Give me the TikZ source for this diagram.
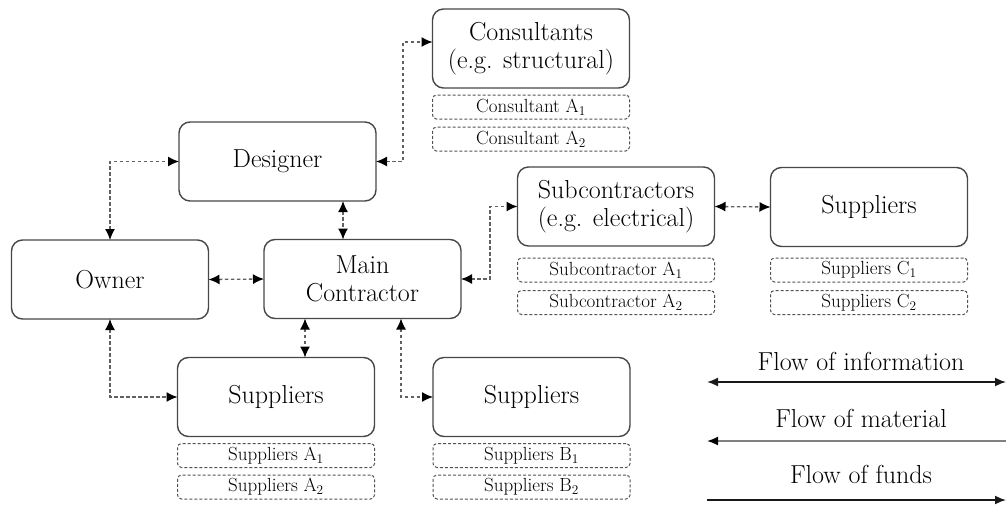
\documentclass[tikz,border=0pt]{standalone}
\usetikzlibrary{arrows.meta}
\begin{document}
\begin{tikzpicture}[x=1pt,y=-1pt,
  bigbox/.style={draw=black!72, line width=1.4pt, rounded corners=11pt,
    minimum width=197pt, minimum height=79pt, inner sep=0pt, outer sep=0pt,
    align=center, text=black, font=\fontsize{26}{28}\selectfont},
  smallbox/.style={draw=black!68, line width=1pt, dash pattern=on 3pt off 2pt,
    rounded corners=4pt, minimum width=197pt, minimum height=24pt,
    inner sep=0pt, outer sep=0pt, text=black, font=\fontsize{19}{20}\selectfont},
  conn/.style={draw=black!62, line width=1.3pt, dash pattern=on 3.5pt off 2.5pt,
    {Latex[length=11pt,width=10pt,black]}-{Latex[length=11pt,width=10pt,black]}},
  legtext/.style={anchor=base, text=black, font=\fontsize{26}{28}\selectfont},
  legline/.style={line width=1.7pt}
]
\useasboundingbox (0,0) rectangle (1008,506);

% main boxes
\node[bigbox] (consult)  at (531,48.5)  {Consultants\\(e.g. structural)};
\node[bigbox] (designer) at (277.5,161.5) {Designer};
\node[bigbox] (owner)    at (110,279.5) {Owner};
\node[bigbox] (main)     at (362.5,279) {Main\\Contractor};
\node[bigbox] (sub)      at (616,206.5) {Subcontractors\\(e.g. electrical)};
\node[bigbox] (supC)     at (869,207)   {Suppliers};
\node[bigbox] (supA)     at (276,397)   {Suppliers};
\node[bigbox] (supB)     at (531.5,397) {Suppliers};

% small dashed boxes
\node[smallbox] (cA1)   at (531,107)   {Consultant A\textsubscript{1}};
\node[smallbox] (cA2)   at (531,139)   {Consultant A\textsubscript{2}};
\node[smallbox] (subA1) at (616,270)   {Subcontractor A\textsubscript{1}};
\node[smallbox] (subA2) at (616,302.5) {Subcontractor A\textsubscript{2}};
\node[smallbox] (supC1) at (869,270)   {Suppliers C\textsubscript{1}};
\node[smallbox] (supC2) at (869,302.5) {Suppliers C\textsubscript{2}};
\node[smallbox] (supA1) at (276,455.5) {Suppliers A\textsubscript{1}};
\node[smallbox] (supA2) at (276,487)   {Suppliers A\textsubscript{2}};
\node[smallbox] (supB1) at (531.5,455.5) {Suppliers B\textsubscript{1}};
\node[smallbox] (supB2) at (531.5,487)   {Suppliers B\textsubscript{2}};

% helper coordinates
\coordinate (cj) at (403,42);
\coordinate (dm) at (343,0);
\coordinate (sj) at (490,0);
\coordinate (ma) at (305,0);
\coordinate (mb) at (401,0);

% connectors
\draw[conn] (owner.north) |- (designer.west);
\draw[conn] (owner.east) -- (main.west);
\draw[conn] (designer.south -| dm) -- (main.north -| dm);
\draw[conn] (designer.east) -| (cj) -- (consult.west |- cj);
\draw[conn] (main.east) -| (sj |- sub.west) -- (sub.west);
\draw[conn] (sub.east) -- (supC.west);
\draw[conn] (main.south -| ma) -- (supA.north -| ma);
\draw[conn] (main.south -| mb) |- (supB.west);
\draw[conn] (owner.south) |- (supA.west);

% legend
\node[legtext] (linfo) at (861,370) {Flow of information};
\node[legtext] (lmat)  at (861,427) {Flow of material};
\node[legtext] (lfund) at (861,483) {Flow of funds};
\coordinate (i1) at (707,382); \coordinate (i2) at (1006,382);
\coordinate (m1) at (707,441); \coordinate (m2) at (1006,441);
\coordinate (f1) at (707,500); \coordinate (f2) at (1006,500);
\draw[legline, black!90, {Latex[length=11pt,width=9pt]}-{Latex[length=11pt,width=9pt]}] (i1) -- (i2);
\draw[legline, black!50, {Latex[length=11pt,width=9pt,black]}-] (m1) -- (m2);
\draw[legline, black!90, -{Latex[length=11pt,width=9pt]}] (f1) -- (f2);
\end{tikzpicture}
\end{document}
